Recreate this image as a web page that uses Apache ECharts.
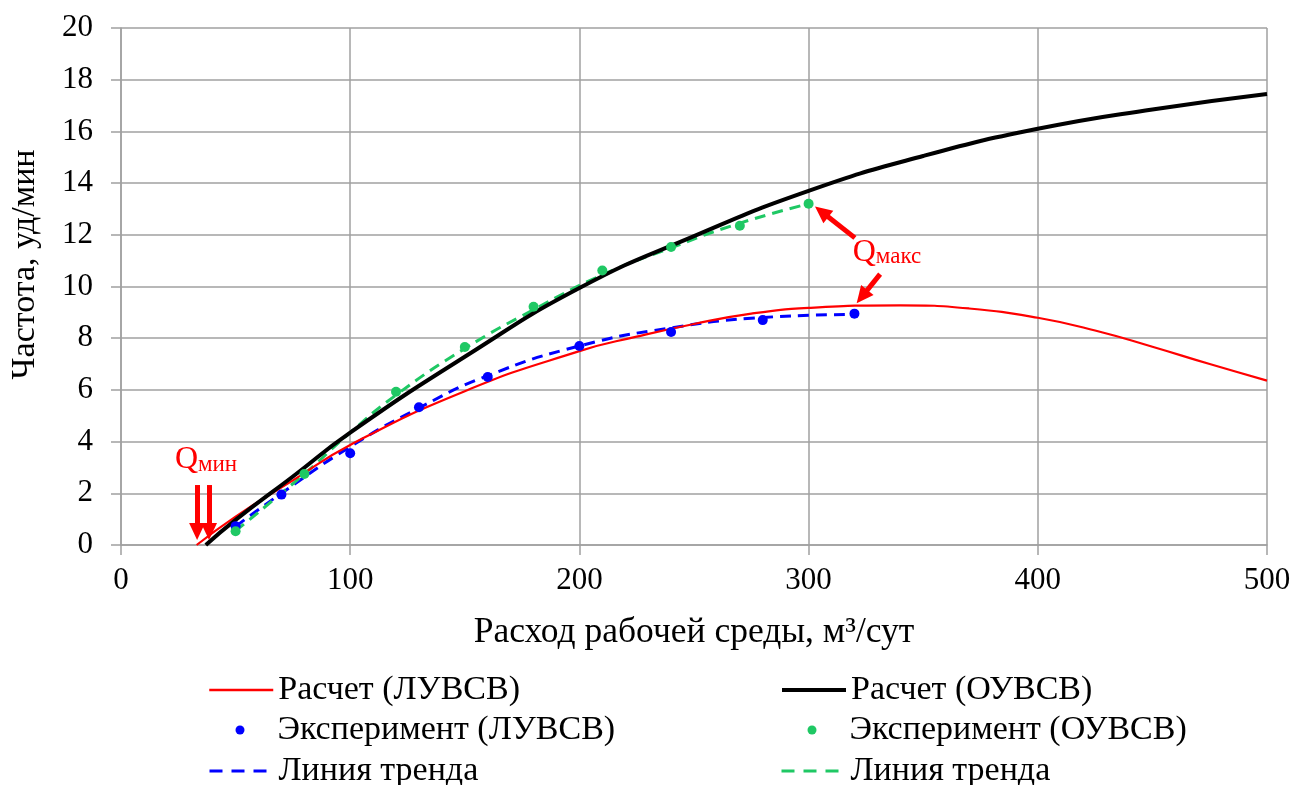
<!DOCTYPE html>
<html>
<head>
<meta charset="utf-8">
<script src="https://cdn.jsdelivr.net/npm/echarts@6/dist/echarts.min.js"></script>
<style>
  html, body { margin: 0; padding: 0; background: #fff; }
  #chart { width: 1295px; height: 785px; }
</style>
</head>
<body>
<div id="chart"></div>
<script>
// расчетные кривые
const calcX_L = [33, 50, 75, 100, 150, 200, 225, 250, 275, 300, 340, 370, 400, 425, 450, 475, 500];
const calcY_L = [0, 1.1, 2.5, 3.87, 5.95, 7.5, 8.06, 8.55, 8.95, 9.17, 9.27, 9.15, 8.79, 8.3, 7.67, 7.0, 6.36];
const calcX_O = [37, 50, 75, 100, 150, 200, 250, 300, 350, 400, 450, 500];
const calcY_O = [0, 0.97, 2.65, 4.35, 7.28, 9.94, 11.95, 13.7, 15.05, 16.1, 16.85, 17.45];

// эксперимент
const expX_L = [50, 70, 100, 130, 160, 200, 240, 280, 320];
const expY_L = [0.73, 1.95, 3.55, 5.33, 6.5, 7.7, 8.24, 8.7, 8.95];
const expX_O = [50, 80, 120, 150, 180, 210, 240, 270, 300];
const expY_O = [0.53, 2.75, 5.93, 7.66, 9.22, 10.62, 11.53, 12.35, 13.2];

// линии тренда
const trendX_L = [50, 70, 100, 130, 160, 200, 240, 280, 320];
const trendY_L = [0.72, 2.0, 3.8, 5.3, 6.55, 7.7, 8.4, 8.8, 8.92];
const trendX_O = [50, 80, 100, 120, 150, 180, 210, 240, 270, 300];
const trendY_O = [0.55, 2.75, 4.35, 5.8, 7.6, 9.1, 10.45, 11.5, 12.45, 13.2];

// подписи осей
const xTicks = [0, 100, 200, 300, 400, 500];
const yTicks = [0, 2, 4, 6, 8, 10, 12, 14, 16, 18, 20];

// стрелки и подписи Q (координаты в единицах осей, конец = центр наконечника)
const qMinArrows = [[[33.2, 2.32], [33.2, 0.52]], [[38.4, 2.32], [38.4, 0.52]]];
const qMaxArrows = [[[320.2, 11.88], [305.7, 12.89]], [[331.2, 10.48], [323.3, 9.61]]];
const qMinLabel = [37.1, 3.29];
const qMaxLabel = [334.2, 11.3];

const zip = (xs, ys) => xs.map((x, i) => [x, ys[i]]);
const FONT = "'Liberation Serif', 'Times New Roman', serif";
const GREEN = '#1fc864';
const DASH = [11, 7];

const chart = echarts.init(document.getElementById('chart'));

const arrowLine = (pair) => [{ coord: pair[0] }, { coord: pair[1] }];

const qLabel = (coord, sub) => ({
  coord: coord,
  symbol: 'circle',
  symbolSize: 1,
  itemStyle: { color: 'rgba(0,0,0,0)' },
  label: {
    show: true,
    position: 'inside',
    formatter: '{q|Q}{s|' + sub + '}',
    rich: {
      q: { fontFamily: FONT, fontSize: 32, color: '#ff0000', verticalAlign: 'bottom' },
      s: { fontFamily: FONT, fontSize: 23, color: '#ff0000', verticalAlign: 'bottom' }
    }
  }
});

const legendText = (n) => n.indexOf('trend') === 0 ? 'Линия тренда' : n;

// одна легенда на каждый элемент, чтобы точно разложить по сетке 2x3
const lineLegend = (name, left, centerY, lineStyle) => ({
  orient: 'vertical',
  left: left,
  top: centerY - 18,
  padding: 0,
  itemWidth: 64,
  itemHeight: 9,
  itemStyle: { color: 'rgba(0,0,0,0)', borderWidth: 0 },
  lineStyle: lineStyle,
  textStyle: { fontFamily: FONT, fontSize: 34, lineHeight: 36, color: '#000' },
  formatter: legendText,
  data: [name]
});

// точка по центру места под значок, текст с отступом
const dotLegend = (name, left, centerY) => ({
  orient: 'vertical',
  left: left + 27.5,
  top: centerY - 18,
  padding: 0,
  itemWidth: 9,
  itemHeight: 9,
  textStyle: {
    fontFamily: FONT, fontSize: 34, lineHeight: 36, color: '#000',
    rich: { sp: { width: 28 } }
  },
  formatter: (n) => '{sp|}' + legendText(n),
  data: [name]
});

chart.setOption({
  animation: false,
  backgroundColor: '#fff',
  grid: {
    left: 121,
    right: 28,
    top: 28,
    bottom: 240
  },
  xAxis: {
    type: 'value',
    min: 0,
    max: 500,
    interval: 100,
    name: 'Расход рабочей среды, м³/сут',
    nameLocation: 'middle',
    nameGap: 70,
    nameTextStyle: { fontFamily: FONT, fontSize: 35.5, color: '#000' },
    axisLine: { lineStyle: { color: '#a0a0a0', width: 1.5 } },
    axisTick: { show: true, length: 10, lineStyle: { color: '#a0a0a0', width: 1.5 } },
    axisLabel: {
      fontFamily: FONT, fontSize: 31, color: '#000', margin: 20,
      formatter: (v) => xTicks.includes(v) ? String(v) : ''
    },
    splitLine: { show: true, lineStyle: { color: '#a0a0a0', width: 1.5 } }
  },
  yAxis: {
    type: 'value',
    min: 0,
    max: 20,
    interval: 2,
    name: 'Частота, уд/мин',
    nameLocation: 'middle',
    nameGap: 79,
    nameTextStyle: { fontFamily: FONT, fontSize: 34, color: '#000', padding: [0, 0, 0, 44] },
    axisLine: { show: true, lineStyle: { color: '#a0a0a0', width: 1.5 } },
    axisTick: { show: true, length: 10, lineStyle: { color: '#a0a0a0', width: 1.5 } },
    axisLabel: {
      fontFamily: FONT, fontSize: 31, color: '#000', margin: 28,
      formatter: (v) => yTicks.includes(v) ? String(v) : ''
    },
    splitLine: { show: true, lineStyle: { color: '#a0a0a0', width: 1.5 } }
  },
  legend: [
    lineLegend('Расчет (ЛУВСВ)', 208, 690, { color: '#ff0000', width: 2.5 }),
    dotLegend('Эксперимент (ЛУВСВ)', 208, 730),
    lineLegend('trendL', 208, 771, { color: '#0000ff', width: 3, type: [13, 9] }),
    lineLegend('Расчет (ОУВСВ)', 780, 690, { color: '#000', width: 4 }),
    dotLegend('Эксперимент (ОУВСВ)', 780, 730),
    lineLegend('trendO', 780, 771, { color: GREEN, width: 3, type: [13, 9] })
  ],
  series: [
    {
      name: 'trendL',
      type: 'line',
      smooth: 0.5,
      symbol: 'none',
      data: zip(trendX_L, trendY_L),
      lineStyle: { color: '#0000ff', width: 3, type: DASH },
      itemStyle: { color: '#0000ff' },
      z: 2
    },
    {
      name: 'trendO',
      type: 'line',
      smooth: 0.5,
      symbol: 'none',
      data: zip(trendX_O, trendY_O),
      lineStyle: { color: GREEN, width: 3, type: DASH },
      itemStyle: { color: GREEN },
      z: 2
    },
    {
      name: 'Расчет (ЛУВСВ)',
      type: 'line',
      smooth: 0.5,
      symbol: 'none',
      data: zip(calcX_L, calcY_L),
      lineStyle: { color: '#ff0000', width: 2.2 },
      itemStyle: { color: '#ff0000' },
      z: 3,
      markLine: {
        silent: true,
        animation: false,
        symbol: ['none', 'triangle'],
        symbolSize: [16, 17],
        label: { show: false },
        lineStyle: { color: '#ff0000', width: 5, type: 'solid' },
        data: qMinArrows.concat(qMaxArrows).map(arrowLine)
      },
      markPoint: {
        silent: true,
        animation: false,
        data: [qLabel(qMinLabel, 'мин'), qLabel(qMaxLabel, 'макс')]
      }
    },
    {
      name: 'Расчет (ОУВСВ)',
      type: 'line',
      smooth: 0.5,
      symbol: 'none',
      data: zip(calcX_O, calcY_O),
      lineStyle: { color: '#000', width: 4 },
      itemStyle: { color: '#000' },
      z: 3
    },
    {
      name: 'Эксперимент (ЛУВСВ)',
      type: 'scatter',
      symbol: 'circle',
      symbolSize: 10,
      data: zip(expX_L, expY_L),
      itemStyle: { color: '#0000ff', opacity: 1 },
      z: 4
    },
    {
      name: 'Эксперимент (ОУВСВ)',
      type: 'scatter',
      symbol: 'circle',
      symbolSize: 10,
      data: zip(expX_O, expY_O),
      itemStyle: { color: GREEN, opacity: 1 },
      z: 4
    }
  ]
});
</script>
</body>
</html>
